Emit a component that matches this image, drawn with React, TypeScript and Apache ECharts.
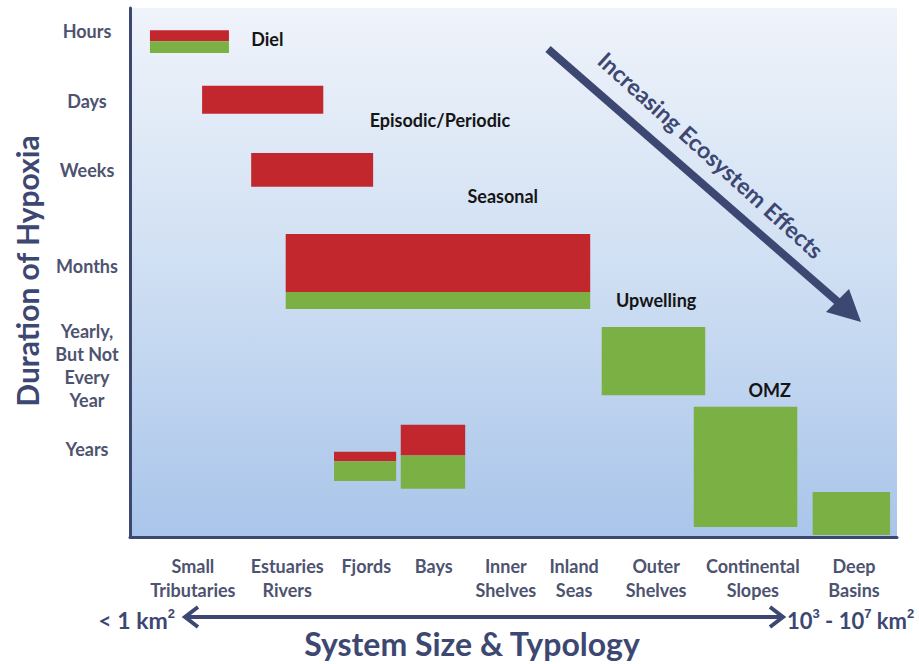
import React, { useEffect, useRef } from "react";
import * as echarts from "echarts";

// x: system size position (0-100), y: duration position (0 = hours, 100 = bottom)
const categories = ["Small\nTributaries", "Estuaries\nRivers", "Fjords", "Bays", "Inner\nShelves", "Inland\nSeas", "Outer\nShelves", "Continental\nSlopes", "Deep\nBasins"];
const categoryPos = [8.2, 20.5, 30.8, 39.6, 49.0, 57.9, 68.6, 81.2, 94.4];

const durations = ["Hours", "Days", "Weeks", "Months", "Yearly,\nBut Not\nEvery\nYear", "Years"];
const durationPos = [4.4, 17.6, 30.6, 48.8, 67.6, 83.4];

// [xStart, xEnd, yStart, yEnd]
const redBoxes = [
  [2.6, 12.9, 4.2, 6.3],
  [9.4, 25.2, 14.7, 20.0],
  [15.8, 31.7, 27.4, 33.8],
  [20.3, 60.0, 42.7, 53.7],
  [26.6, 34.7, 83.9, 85.7],
  [35.3, 43.7, 78.8, 84.6],
];
const greenBoxes = [
  [2.6, 12.9, 6.3, 8.5],
  [20.3, 60.0, 53.7, 56.9],
  [61.5, 75.0, 60.3, 73.2],
  [73.5, 87.0, 75.4, 98.1],
  [89.0, 99.1, 91.5, 99.6],
  [26.6, 34.7, 85.7, 89.4],
  [35.3, 43.7, 84.6, 90.9],
];

const annotations = ["Diel", "Episodic/Periodic", "Seasonal", "Upwelling", "OMZ"];
const annotationPos = [
  [17.9, 5.8],
  [40.4, 21.2],
  [48.6, 35.5],
  [68.6, 55.2],
  [83.4, 72.2],
];

const RED = "#c1272d";
const GREEN = "#7bb144";
const SLATE = "#3d4872";
const LABEL = "#4d5370";
const FONT = "Lato, 'Open Sans', sans-serif";

export default function App() {
  const ref = useRef<HTMLDivElement>(null);
  useEffect(() => {
    if (!ref.current) return;
    const chart = echarts.init(ref.current, null, { renderer: "svg" });
    const boxRender = (color: string) => (params: any, api: any) => {
      const p0 = api.coord([api.value(0), api.value(2)]);
      const p1 = api.coord([api.value(1), api.value(3)]);
      return {
        type: "rect",
        shape: { x: p0[0], y: p0[1], width: p1[0] - p0[0], height: p1[1] - p0[1] },
        style: { fill: color },
      };
    };
    const option: any = {
      animation: false,
      grid: {
        left: 130,
        top: 8,
        right: 22,
        bottom: 127,
        outerBoundsMode: "none",
        containLabel: false,
        show: true,
        borderWidth: 0,
        backgroundColor: {
          type: "linear",
          x: 0, y: 0, x2: 0, y2: 1,
          colorStops: [
            { offset: 0, color: "#eff3fa" },
            { offset: 0.5, color: "#cfdff3" },
            { offset: 1, color: "#a9c5ea" },
          ],
        },
      },
      xAxis: {
        type: "value",
        min: 0,
        max: 100,
        axisLine: { show: true, onZero: false, lineStyle: { color: SLATE, width: 3 } },
        axisTick: { show: false },
        splitLine: { show: false },
        axisLabel: {
          customValues: categoryPos,
          hideOverlap: false,
          showMinLabel: true,
          showMaxLabel: true,
          margin: 17,
          color: LABEL,
          fontFamily: FONT,
          fontWeight: "bold",
          fontSize: 18,
          lineHeight: 24,
          align: "center",
          verticalAlign: "top",
          formatter: (v: number) => {
            const i = categoryPos.findIndex((p) => Math.abs(p - v) < 1e-6);
            return i >= 0 ? categories[i] : "";
          },
        },
      },
      yAxis: {
        type: "value",
        min: 0,
        max: 100,
        inverse: true,
        axisLine: { show: true, onZero: false, lineStyle: { color: SLATE, width: 3 } },
        axisTick: { show: false },
        splitLine: { show: false },
        axisLabel: {
          customValues: durationPos,
          hideOverlap: false,
          margin: 43,
          color: LABEL,
          fontFamily: FONT,
          fontWeight: "bold",
          fontSize: 18,
          lineHeight: 23,
          align: "center",
          formatter: (v: number) => {
            const i = durationPos.findIndex((p) => Math.abs(p - v) < 1e-6);
            return i >= 0 ? durations[i] : "";
          },
        },
      },
      series: [
        { type: "custom", renderItem: boxRender(RED), data: redBoxes, encode: { x: [0, 1], y: [2, 3] } },
        { type: "custom", renderItem: boxRender(GREEN), data: greenBoxes, encode: { x: [0, 1], y: [2, 3] } },
        {
          type: "custom",
          data: annotationPos.map((p, i) => [p[0], p[1], i]),
          renderItem: (params: any, api: any) => {
            const c = api.coord([api.value(0), api.value(1)]);
            return {
              type: "text",
              x: c[0],
              y: c[1],
              style: {
                text: annotations[api.value(2)],
                fill: "#151515",
                font: `bold 18px ${FONT}`,
                align: "center",
                verticalAlign: "middle",
              },
            };
          },
        },
      ],
      graphic: [
        {
          type: "text",
          x: 27,
          y: 271,
          rotation: Math.PI / 2,
          style: {
            text: "Duration of Hypoxia",
            fill: SLATE,
            font: `bold 30px ${FONT}`,
            align: "center",
            verticalAlign: "middle",
          },
        },
        // diagonal arrow
        { type: "line", shape: { x1: 548, y1: 49, x2: 838, y2: 302 }, style: { stroke: SLATE, lineWidth: 8 }, z: 10 },
        { type: "polygon", shape: { points: [[861, 322], [826, 312], [849, 289]] }, style: { fill: SLATE }, z: 10 },
        {
          type: "text",
          x: 711,
          y: 155,
          rotation: -0.735,
          style: {
            text: "Increasing Ecosystem Effects",
            fill: SLATE,
            font: `bold 23px ${FONT}`,
            align: "center",
            verticalAlign: "middle",
          },
          z: 10,
        },
        // bottom double arrow
        { type: "line", shape: { x1: 186, y1: 617, x2: 782, y2: 617 }, style: { stroke: SLATE, lineWidth: 4 } },
        { type: "polyline", shape: { points: [[198, 607], [185, 617], [198, 627]] }, style: { stroke: SLATE, lineWidth: 4, fill: null } },
        { type: "polyline", shape: { points: [[770, 607], [783, 617], [770, 627]] }, style: { stroke: SLATE, lineWidth: 4, fill: null } },
        {
          type: "text",
          x: 175,
          y: 620,
          style: {
            text: "< 1 km{sup|2}",
            fill: SLATE,
            font: `bold 23px ${FONT}`,
            align: "right",
            verticalAlign: "middle",
            rich: { sup: { fontSize: 13, fontWeight: "bold", fill: SLATE, padding: [0, 0, 14, 0] } },
          },
        },
        {
          type: "text",
          x: 787,
          y: 620,
          style: {
            text: "10{sup|3} - 10{sup|7} km{sup|2}",
            fill: SLATE,
            font: `bold 22px ${FONT}`,
            verticalAlign: "middle",
            rich: { sup: { fontSize: 13, fontWeight: "bold", fill: SLATE, padding: [0, 0, 14, 0] } },
          },
        },
        {
          type: "text",
          x: 472,
          y: 643,
          style: {
            text: "System Size & Typology",
            fill: SLATE,
            font: `bold 32px ${FONT}`,
            align: "center",
            verticalAlign: "middle",
          },
        },
      ],
    };
    chart.setOption(option);
    return () => chart.dispose();
  }, []);
  return <div ref={ref} style={{ width: 919, height: 664, position: "absolute", left: 0, top: 0 }} />;
}
